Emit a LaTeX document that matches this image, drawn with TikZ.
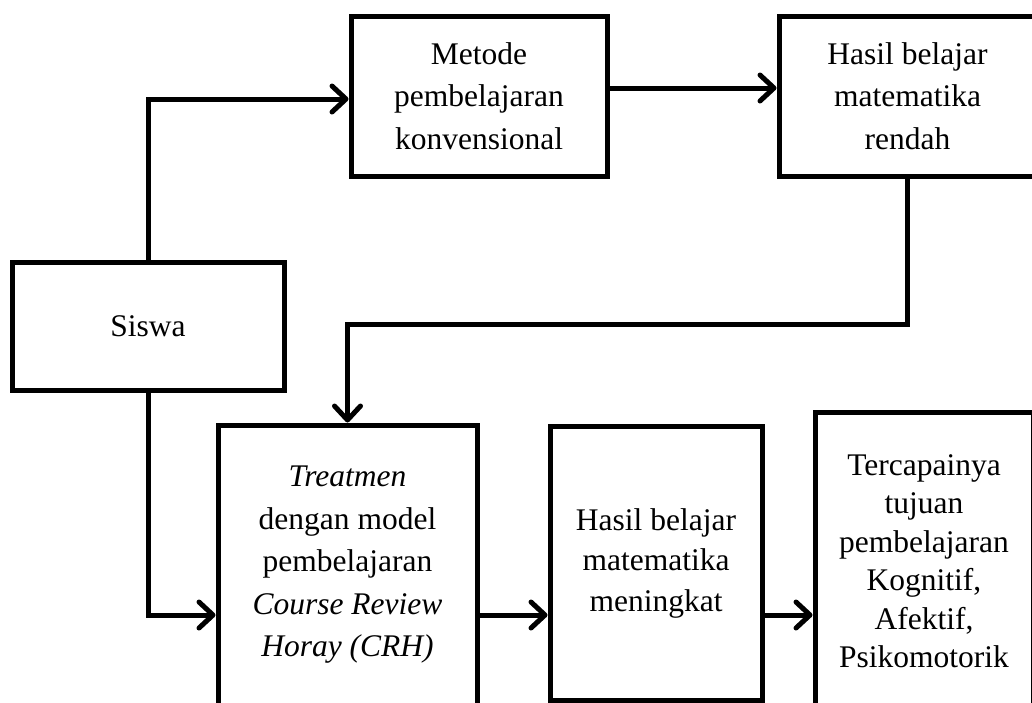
\documentclass[tikz,border=0pt]{standalone}
\usepackage{fontspec}
\setmainfont{Liberation Serif}
\usetikzlibrary{arrows.meta}
\begin{document}
\begin{tikzpicture}[x=1pt,y=-1pt,
  box/.style={draw=black,line width=5pt,rectangle,inner sep=0pt,align=center,font=\fontsize{31.5}{42.5}\selectfont},
  arr/.style={line width=5pt,-{Straight Barb[length=14pt,width=26pt,line width=5pt,line cap=round,line join=round]}}]
\useasboundingbox (0,0) rectangle (1032,702);
\clip (0,0) rectangle (1032,702);
\fill[white] (0,0) rectangle (1032,702);
\node[box,minimum width=272pt,minimum height=128pt] (siswa) at (148,326) {Siswa};
\node[box,minimum width=256pt,minimum height=160pt] (metode) at (479,96) {Metode\\pembelajaran\\konvensional};
\node[box,minimum width=257pt,minimum height=160pt] (rendah) at (907.5,96) {Hasil belajar\\matematika\\rendah};
\node[box,minimum width=259pt,minimum height=280pt] (treat) at (347.5,565) {\textit{Treatmen}\\dengan model\\pembelajaran\\\textit{Course Review}\\\textit{Horay (CRH)}};
\node[box,minimum width=212pt,minimum height=274pt,font=\fontsize{31.5}{40.5}\selectfont] (mening) at (656,563) {Hasil belajar\\matematika\\meningkat};
\node[box,minimum width=218pt,minimum height=298pt,font=\fontsize{31.5}{38.5}\selectfont] (tercap) at (924,561) {Tercapainya\\tujuan\\pembelajaran\\Kognitif,\\Afektif,\\Psikomotorik};
\coordinate (row) at (0,615);
\draw[arr] (siswa.north) |- ([yshift=-3pt]metode.west);
\draw[arr] ([yshift=8pt]metode.east) -- ([yshift=8pt]rendah.west);
\draw[arr] (rendah.south) -- ++(0,146) -| (treat.north);
\draw[arr] (siswa.south) |- (treat.west |- row);
\draw[arr] (treat.east |- row) -- (mening.west |- row);
\draw[arr] (mening.east |- row) -- (tercap.west |- row);
\end{tikzpicture}
\end{document}
